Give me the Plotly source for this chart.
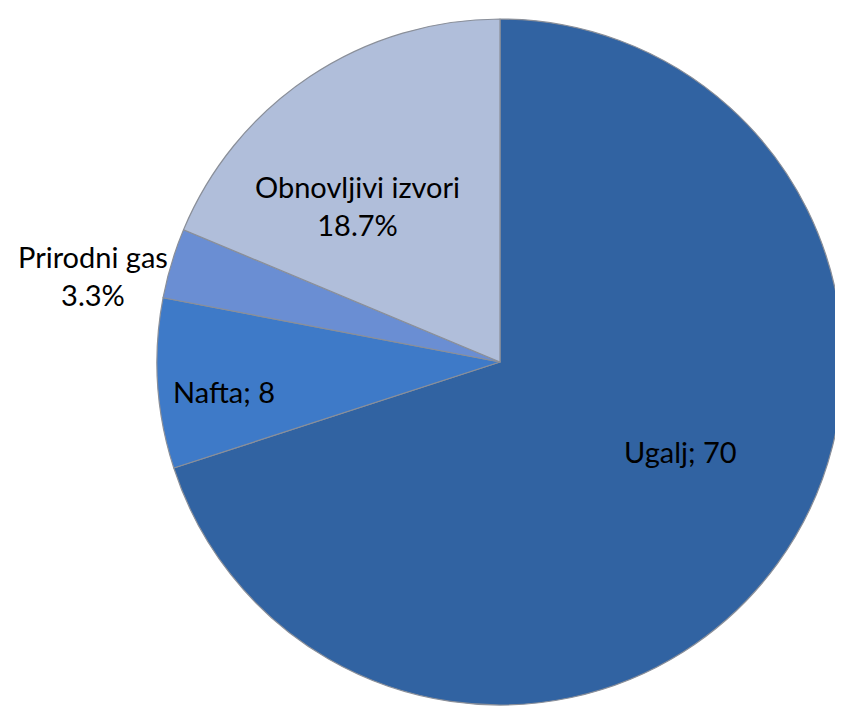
import plotly.graph_objects as go

labels = ["Ugalj", "Nafta", "Prirodni gas", "Obnovljivi izvori"]
values = [70, 8, 3.3, 18.7]
label_texts = ["Ugalj; 70", "Nafta; 8", "Prirodni gas<br>3.3%", "Obnovljivi izvori<br>18.7%"]

colors = ["#3163A2", "#3E7AC8", "#6A8ED3", "#B0BEDA"]
W, H = 843, 709
# label pixel positions (layout only)
label_px = [(672, 443), (216, 383), (85, 267), (349, 197)]

fig = go.Figure(go.Pie(
    labels=labels, values=values, sort=False, direction="clockwise", rotation=0,
    textinfo="none", hoverinfo="label+value",
    marker=dict(colors=colors, line=dict(color="#8A8F99", width=1.2)),
    domain=dict(x=[149 / W, 835 / W], y=[12 / H, 698 / H]),
    showlegend=False,
))

for t, (px, py) in zip(label_texts, label_px):
    fig.add_annotation(x=px / W, y=1 - py / H, xref="paper", yref="paper",
                       xanchor="center", yanchor="middle",
                       text=t, showarrow=False, align="center",
                       font=dict(family="Lato, Carlito, sans-serif", size=29, color="#000000"))

fig.update_layout(width=W, height=H, margin=dict(l=0, r=0, t=0, b=0),
                  paper_bgcolor="white", plot_bgcolor="white")
fig.write_html("out.html")
